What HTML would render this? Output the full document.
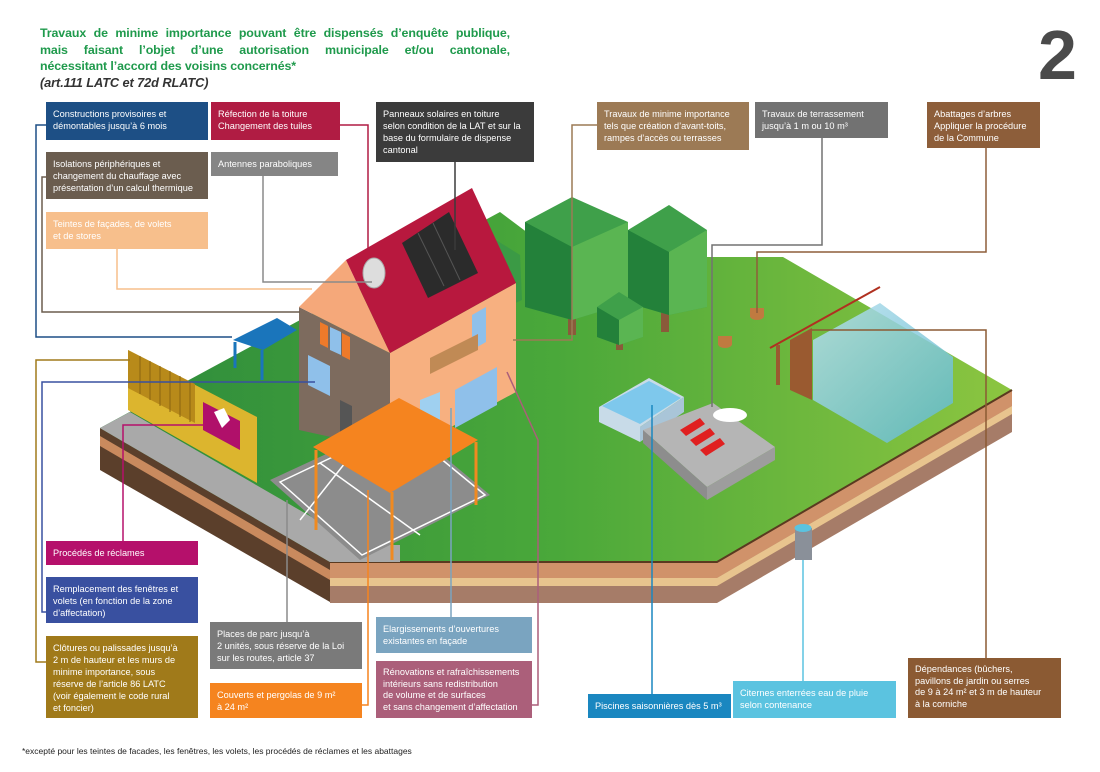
<!DOCTYPE html>
<html><head><meta charset="utf-8">
<style>
html,body{margin:0;padding:0;background:#fff;}
#w{position:relative;width:1100px;height:772px;overflow:hidden;font-family:"Liberation Sans",Arial,sans-serif;}
svg{position:absolute;left:0;top:0;}
.b{position:absolute;color:#fff;font-size:9.2px;line-height:12px;padding:6px 7px;box-sizing:border-box;white-space:nowrap;overflow:hidden;}
.t{position:absolute;left:40px;top:25px;width:470px;color:#1f9a4c;font-weight:bold;font-size:12.4px;line-height:16.5px;letter-spacing:-0.1px;}
.j{text-align:justify;text-align-last:justify;display:block;}
</style></head><body><div id="w">
<svg width="1100" height="772" viewBox="0 0 1100 772">
<defs>
<linearGradient id="gt" x1="0" y1="0" x2="1" y2="0"><stop offset="0" stop-color="#2c8a3c"/><stop offset="0.5" stop-color="#4aa83a"/><stop offset="1" stop-color="#8cc540"/></linearGradient>
<linearGradient id="gl" x1="0" y1="0" x2="1" y2="1"><stop offset="0" stop-color="#b8e0ef"/><stop offset="1" stop-color="#5cb8cc"/></linearGradient>
</defs>
<polygon points="100,428 330,562 330,602 100,470" fill="#5b3f2b"/>
<polygon points="100,436 330,570 330,580 100,446" fill="#c98a5e"/>
<polygon points="330,562 717,562 717,603 330,603" fill="#a67c68"/>
<polygon points="330,562 717,562 717,578 330,578" fill="#d0926a"/>
<polygon points="330,578 717,578 717,586 330,586" fill="#e8c48e"/>
<polygon points="717,562 1012,390 1012,432 717,603" fill="#a67c68"/>
<polygon points="717,562 1012,390 1012,406 717,578" fill="#d0926a"/>
<polygon points="717,578 1012,406 1012,414 717,586" fill="#e8c48e"/>
<polygon points="100,428 500,212 560,257 783,257 1012,390 717,562 330,562" fill="url(#gt)"/>
<polyline points="330,562 717,562 1012,390" fill="none" stroke="#5a3a20" stroke-width="2"/>
<polygon points="100,428 130,412 360,545 400,545 400,562 330,562" fill="#a9a9a9"/>
<polygon points="270,480 400,420 490,495 360,560" fill="#8c8c8c"/>
<g stroke="#fff" stroke-width="1.5" fill="none"><polygon points="280,482 400,425 485,495 362,555"/><line x1="320" y1="463" x2="420" y2="535"/><line x1="360" y1="444" x2="300" y2="520"/></g>
<g>
<rect x="568" y="300" width="8" height="35" fill="#8a5a3a"/>
<polygon points="525,222 572,197 628,222 628,303 572,320 525,307" fill="#3fa04a"/>
<polygon points="525,222 572,247 572,320 525,307" fill="#23813a"/>
<polygon points="572,247 628,222 628,303 572,320" fill="#5ab552"/>
<rect x="661" y="300" width="8" height="32" fill="#8a5a3a"/>
<polygon points="628,230 669,205 707,230 707,307 669,315 628,303" fill="#3fa04a"/>
<polygon points="628,230 669,252 669,315 628,303" fill="#23813a"/>
<polygon points="669,252 707,230 707,307 669,315" fill="#5ab552"/>
<rect x="616" y="335" width="7" height="15" fill="#8a5a3a"/>
<polygon points="597,307 619,292 643,307 643,337 619,345 597,337" fill="#3fa04a"/>
<polygon points="597,307 619,320 619,345 597,337" fill="#23813a"/>
<polygon points="619,320 643,307 643,337 619,345" fill="#5ab552"/>
<polygon points="496,240 520,255 522,300 500,310" fill="#3b9a45"/>
</g>
<ellipse cx="757" cy="316" rx="7" ry="4" fill="#c07a40"/><rect x="750" y="308" width="14" height="9" fill="#c07a40"/>
<ellipse cx="725" cy="344" rx="7" ry="4" fill="#c07a40"/><rect x="718" y="336" width="14" height="9" fill="#c07a40"/>
<line x1="770" y1="348" x2="880" y2="287" stroke="#b03020" stroke-width="2"/>
<polygon points="790,340 812,328 812,400 790,390" fill="#9a5a30"/>
<rect x="776" y="345" width="4" height="40" fill="#9a5a30"/>
<polygon points="813,340 880,303 953,357 953,403 887,443 813,400" fill="url(#gl)" opacity="0.85"/>
<polygon points="599,407 649,378 684,397 640,427 640,442 599,422" fill="#c8dbe8"/>
<polygon points="640,427 684,397 684,412 640,442" fill="#a9c5d8"/>
<polygon points="602,406 649,381 681,398 640,424" fill="#7ec8ec"/>
<polygon points="643,430 713,403 775,447 707,487" fill="#b5b5b5"/>
<polygon points="643,430 707,487 707,500 643,443" fill="#8d8d8d"/>
<polygon points="707,487 775,447 775,460 707,500" fill="#9d9d9d"/>
<g fill="#e02020"><polygon points="680,430 700,418 705,424 686,436"/><polygon points="690,440 710,428 715,434 696,446"/><polygon points="700,450 720,438 725,444 706,456"/></g>
<ellipse cx="730" cy="415" rx="17" ry="7" fill="#fff"/>
<polygon points="233,340 277,318 297,330 263,350" fill="#1a75bb"/>
<g stroke="#1a75bb" stroke-width="3"><line x1="235" y1="342" x2="235" y2="368"/><line x1="262" y1="350" x2="262" y2="380"/></g>
<polygon points="128,350 257,417 257,483 128,410" fill="#dcb52e"/>
<polygon points="128,350 195,384 195,423 128,388" fill="#b88a1a"/>
<g stroke="#8a6410" stroke-width="1"><line x1="140" y1="356" x2="140" y2="394"/><line x1="150" y1="361" x2="150" y2="400"/><line x1="160" y1="366" x2="160" y2="406"/><line x1="170" y1="371" x2="170" y2="412"/><line x1="180" y1="376" x2="180" y2="417"/><line x1="190" y1="381" x2="190" y2="422"/></g>
<polygon points="203,402 240,421 240,450 203,430" fill="#b0106a"/>
<polygon points="214,412 224,408 230,420 222,428" fill="#fff"/>
<polygon points="299,307 390,353 390,450 299,430" fill="#7d6b5e"/>
<polygon points="299,307 346,260 390,353" fill="#f5a87a"/>
<polygon points="390,353 516,283 516,392 390,460" fill="#f7b080"/>
<polygon points="346,260 472,188 516,283 390,353" fill="#b8183e"/>
<polygon points="402,243 449,212 478,273 428,298" fill="#2b2b2b"/>
<g stroke="#555" stroke-width="1"><line x1="418" y1="233" x2="444" y2="286"/><line x1="433" y1="223" x2="460" y2="280"/></g>
<ellipse cx="374" cy="273" rx="11" ry="15" fill="#ddd" stroke="#aaa"/>
<g fill="#ee7a2a"><polygon points="320,322 328,326 328,348 320,344"/><polygon points="342,333 350,337 350,360 342,356"/></g>
<polygon points="330,327 341,332 341,355 330,350" fill="#8fc0ea"/>
<polygon points="308,355 330,366 330,396 308,385" fill="#8fc0ea"/>
<polygon points="340,400 352,406 352,440 340,434" fill="#555"/>
<polygon points="472,315 486,307 486,342 472,350" fill="#8fc0ea"/>
<polygon points="430,358 478,334 478,350 430,374" fill="#c08a55"/>
<polygon points="455,390 497,367 497,405 455,428" fill="#8fc0ea"/>
<polygon points="420,400 440,392 440,420 420,428" fill="#9fd0f0"/>
<g stroke="#f08a20" stroke-width="3"><line x1="316" y1="450" x2="316" y2="530"/><line x1="392" y1="492" x2="392" y2="560"/><line x1="476" y1="442" x2="476" y2="505"/><line x1="405" y1="402" x2="405" y2="420"/></g>
<polygon points="313,447 399,398 478,440 390,493" fill="#f5841f"/>
<rect x="795" y="528" width="17" height="32" fill="#8a9099"/>
<ellipse cx="803" cy="528" rx="8.5" ry="4" fill="#5bc3e0"/>
<g fill="none" stroke-width="1.5">
<polyline points="46,125 36,125 36,337 232,337" stroke="#1d4f85"/>
<polyline points="46,177 42,177 42,312 300,312" stroke="#6b5d4f"/>
<polyline points="117,249 117,289 312,289" stroke="#f7bf8c"/>
<polyline points="263,176 263,282 372,282" stroke="#8a8a8a"/>
<polyline points="340,125 368,125 368,250" stroke="#b01c43"/>
<polyline points="455,162 455,250" stroke="#3b3b3b"/>
<polyline points="130,360 36,360 36,662 46,662" stroke="#a07a1a"/>
<polyline points="315,382 42,382 42,612 46,612" stroke="#3950a0"/>
<polyline points="205,425 123,425 123,541" stroke="#b5106b"/>
<polyline points="597,125 572,125 572,340 513,340" stroke="#9c7a55"/>
<polyline points="822,138 822,245 712,245 712,407" stroke="#727272"/>
<polyline points="986,148 986,252 757,252 757,313" stroke="#8d5e3a"/>
<polyline points="812,330 986,330 986,658" stroke="#8b5a33"/>
<polyline points="803,560 803,681" stroke="#5bc3e0"/>
<polyline points="652,405 652,694" stroke="#1a87c0"/>
<polyline points="532,705 538,705 538,440 507,372" stroke="#ab5f7a"/>
<polyline points="451,617 451,408" stroke="#7aa4c0"/>
<polyline points="362,705 368,705 368,490" stroke="#f5841f"/>
<polyline points="287,622 287,500" stroke="#8a8a8a"/>
</g>
<text x="1038" y="79" font-family="Liberation Sans, sans-serif" font-weight="bold" font-size="70" fill="#4a4a4a">2</text>
</svg>
<div class="t"><span class="j">Travaux de minime importance pouvant être dispensés d’enquête publique,</span><span class="j">mais faisant l’objet d’une autorisation municipale et/ou cantonale,</span>nécessitant l’accord des voisins concernés*<br><span style="color:#333;font-style:italic;font-size:12.8px">(art.111 LATC et 72d RLATC)</span></div>
<div class="b" style="left:46px;top:102px;width:162px;height:38px;background:#1d4f85">Constructions provisoires et<br>démontables jusqu’à 6 mois</div>
<div class="b" style="left:211px;top:102px;width:129px;height:38px;background:#b01c43">Réfection de la toiture<br>Changement des tuiles</div>
<div class="b" style="left:376px;top:102px;width:158px;height:60px;background:#3b3b3b">Panneaux solaires en toiture<br>selon condition de la LAT et sur la<br>base du formulaire de dispense<br>cantonal</div>
<div class="b" style="left:46px;top:152px;width:162px;height:47px;background:#6b5d4f">Isolations périphériques  et<br>changement du chauffage avec<br>présentation d’un calcul thermique</div>
<div class="b" style="left:211px;top:152px;width:127px;height:24px;background:#858585">Antennes paraboliques</div>
<div class="b" style="left:46px;top:212px;width:162px;height:37px;background:#f7bf8c">Teintes de façades, de volets<br>et de stores</div>
<div class="b" style="left:597px;top:102px;width:152px;height:48px;background:#9c7a55">Travaux de minime importance<br>tels que création d’avant-toits,<br>rampes d’accès ou terrasses</div>
<div class="b" style="left:755px;top:102px;width:133px;height:36px;background:#727272">Travaux de terrassement<br>jusqu’à 1 m ou 10 m³</div>
<div class="b" style="left:927px;top:102px;width:113px;height:46px;background:#8d5e3a">Abattages d’arbres<br>Appliquer la procédure<br>de la Commune</div>
<div class="b" style="left:46px;top:541px;width:152px;height:24px;background:#b5106b">Procédés de réclames</div>
<div class="b" style="left:46px;top:577px;width:152px;height:46px;background:#3950a0">Remplacement des fenêtres et<br>volets (en fonction de la zone<br>d’affectation)</div>
<div class="b" style="left:46px;top:636px;width:152px;height:82px;background:#a07a1a">Clôtures ou palissades jusqu’à<br>2 m de hauteur et les murs de<br>minime importance, sous<br>réserve de l’article 86 LATC<br>(voir également le code rural<br>et foncier)</div>
<div class="b" style="left:210px;top:622px;width:152px;height:47px;background:#7a7a7a">Places de parc jusqu’à<br>2 unités, sous réserve de la Loi<br>sur les routes, article 37</div>
<div class="b" style="left:210px;top:683px;width:152px;height:35px;background:#f5841f">Couverts et pergolas de 9 m²<br>à 24 m²</div>
<div class="b" style="left:376px;top:617px;width:156px;height:36px;background:#7aa4c0">Elargissements d’ouvertures<br>existantes en façade</div>
<div class="b" style="left:376px;top:661px;width:156px;height:57px;background:#ab5f7a;line-height:11.5px">Rénovations et rafraîchissements<br>intérieurs sans redistribution<br>de volume et de surfaces<br>et sans changement d’affectation</div>
<div class="b" style="left:588px;top:694px;width:143px;height:24px;background:#1a87c0">Piscines saisonnières dès 5 m³</div>
<div class="b" style="left:733px;top:681px;width:163px;height:37px;background:#5bc3e0">Citernes enterrées eau de pluie<br>selon contenance</div>
<div class="b" style="left:908px;top:658px;width:153px;height:60px;background:#8b5a33;line-height:11.5px">Dépendances (bûchers,<br>pavillons de jardin ou serres<br>de 9 à 24 m² et 3 m de hauteur<br>à la corniche</div>
<div style="position:absolute;left:22px;top:746px;font-size:8.5px;color:#222">*excepté pour les teintes de facades, les fenêtres, les volets, les procédés de réclames et les abattages</div>
</div></body></html>
